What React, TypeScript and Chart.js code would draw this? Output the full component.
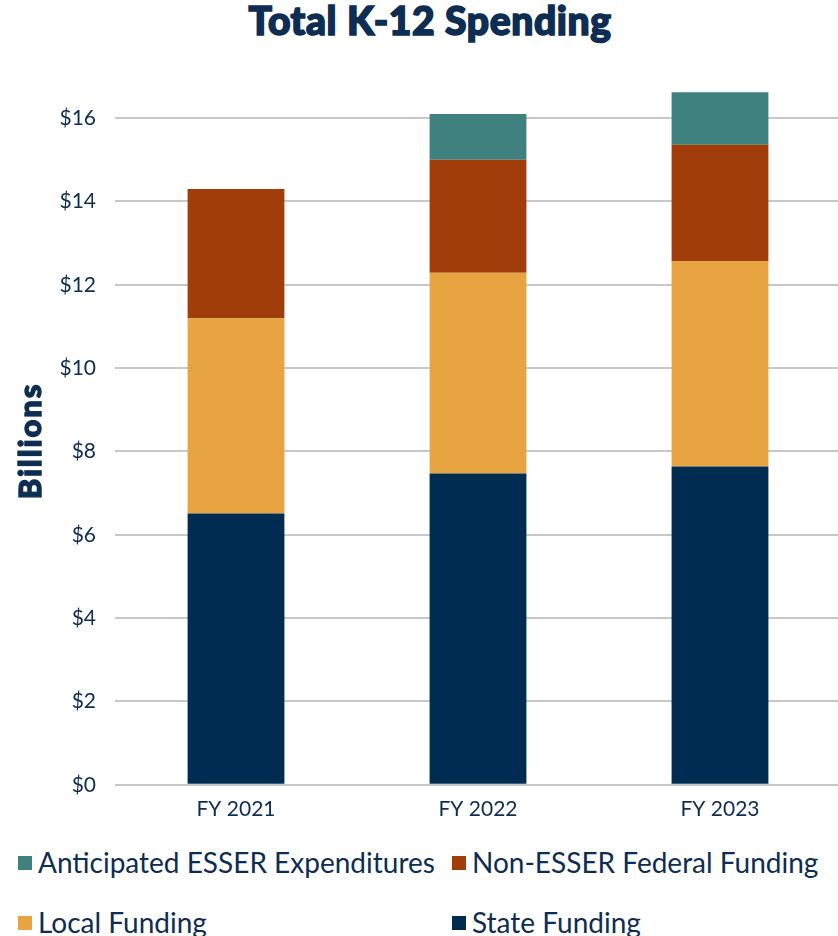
import React, { useEffect, useRef } from "react";
import { Chart, registerables } from "chart.js";

Chart.register(...registerables);

// ---- Data ----
const categories = ["FY 2021", "FY 2022", "FY 2023"];
const stateFunding = [6.51, 7.47, 7.64];
const localFunding = [4.69, 4.82, 4.93];
const nonEsserFederal = [3.1, 2.71, 2.79];
const anticipatedEsser = [0, 1.1, 1.26];
const yTickValues = [0, 2, 4, 6, 8, 10, 12, 14, 16];

const seriesLabels = {
  state: "State Funding",
  local: "Local Funding",
  federal: "Non-ESSER Federal Funding",
  esser: "Anticipated ESSER Expenditures",
};

const NAVY = "#002C52";
const GOLD = "#E8A440";
const RUST = "#A13D0A";
const TEAL = "#3F817F";
const TEXT = "#0E2D52";
const FONT = "Lato, 'Open Sans', sans-serif";

const legendItems = [
  { label: seriesLabels.esser, color: TEAL, left: 18, top: 846 },
  { label: seriesLabels.federal, color: RUST, left: 452, top: 846 },
  { label: seriesLabels.local, color: GOLD, left: 18, top: 906 },
  { label: seriesLabels.state, color: NAVY, left: 452, top: 906 },
];

export default function App() {
  const canvasRef = useRef<HTMLCanvasElement | null>(null);

  useEffect(() => {
    document.body.style.margin = "0";
    const canvas = canvasRef.current;
    if (!canvas) return;
    const chart = new Chart(canvas, {
      type: "bar",
      data: {
        labels: categories,
        datasets: [
          { label: seriesLabels.state, data: stateFunding, backgroundColor: NAVY },
          { label: seriesLabels.local, data: localFunding, backgroundColor: GOLD },
          { label: seriesLabels.federal, data: nonEsserFederal, backgroundColor: RUST },
          { label: seriesLabels.esser, data: anticipatedEsser, backgroundColor: TEAL },
        ],
      },
      options: {
        responsive: false,
        animation: false,
        devicePixelRatio: 1,
        layout: { padding: { top: 89, bottom: 11, left: 0, right: 0 } },
        datasets: {
          bar: { barPercentage: 0.4, categoryPercentage: 1, borderWidth: 0 },
        },
        plugins: {
          legend: { display: false },
          title: { display: false },
          tooltip: { enabled: false },
        },
        scales: {
          x: {
            stacked: true,
            grid: { display: false, drawTicks: false },
            border: { display: false },
            ticks: {
              color: TEXT,
              font: { family: FONT, size: 21 },
              padding: 12,
            },
          },
          y: {
            stacked: true,
            min: 0,
            max: 16.7,
            afterBuildTicks: (scale: any) => {
              scale.ticks = yTickValues.map((v) => ({ value: v }));
            },
            afterFit: (scale: any) => {
              scale.width = 115;
            },
            grid: { color: "#C8C8C8", lineWidth: 2, drawTicks: false },
            border: { display: false },
            ticks: {
              color: TEXT,
              font: { family: FONT, size: 21 },
              padding: 19,
              callback: (v: any) => "$" + v,
            },
            title: { display: false },
          },
        },
      },
    });
    return () => chart.destroy();
  }, []);

  return (
    <div style={{ position: "relative", width: 838, height: 936, overflow: "hidden", background: "#fff" }}>
      <div
        style={{
          position: "absolute",
          top: 1,
          left: 0,
          width: 860,
          textAlign: "center",
          fontFamily: FONT,
          fontWeight: 900,
          fontSize: 39,
          lineHeight: "39px",
          letterSpacing: "0.6px",
          color: TEXT,
          WebkitTextStroke: `1.6px ${TEXT}`,
        }}
      >
        Total K-12 Spending
      </div>
      <canvas
        ref={canvasRef}
        width={841}
        height={845}
        style={{ position: "absolute", left: 0, top: 0, width: 841, height: 845 }}
      />
      <div
        style={{
          position: "absolute",
          left: 29 - 80,
          top: 441 - 18,
          width: 160,
          height: 36,
          lineHeight: "36px",
          textAlign: "center",
          transform: "rotate(-90deg)",
          fontFamily: FONT,
          fontWeight: 900,
          fontSize: 31,
          letterSpacing: "1.9px",
          color: TEXT,
          WebkitTextStroke: `1.3px ${TEXT}`,
        }}
      >
        Billions
      </div>
      {legendItems.map((it) => (
        <div
          key={it.label}
          style={{
            position: "absolute",
            left: it.left,
            top: it.top,
            height: 32,
            display: "flex",
            alignItems: "center",
            fontFamily: FONT,
            fontSize: 28,
            lineHeight: "32px",
            color: TEXT,
            whiteSpace: "nowrap",
          }}
        >
          <span
            style={{ display: "inline-block", width: 14, height: 14, background: it.color, marginRight: 6, marginTop: 2 }}
          />
          <span>{it.label}</span>
        </div>
      ))}
    </div>
  );
}
